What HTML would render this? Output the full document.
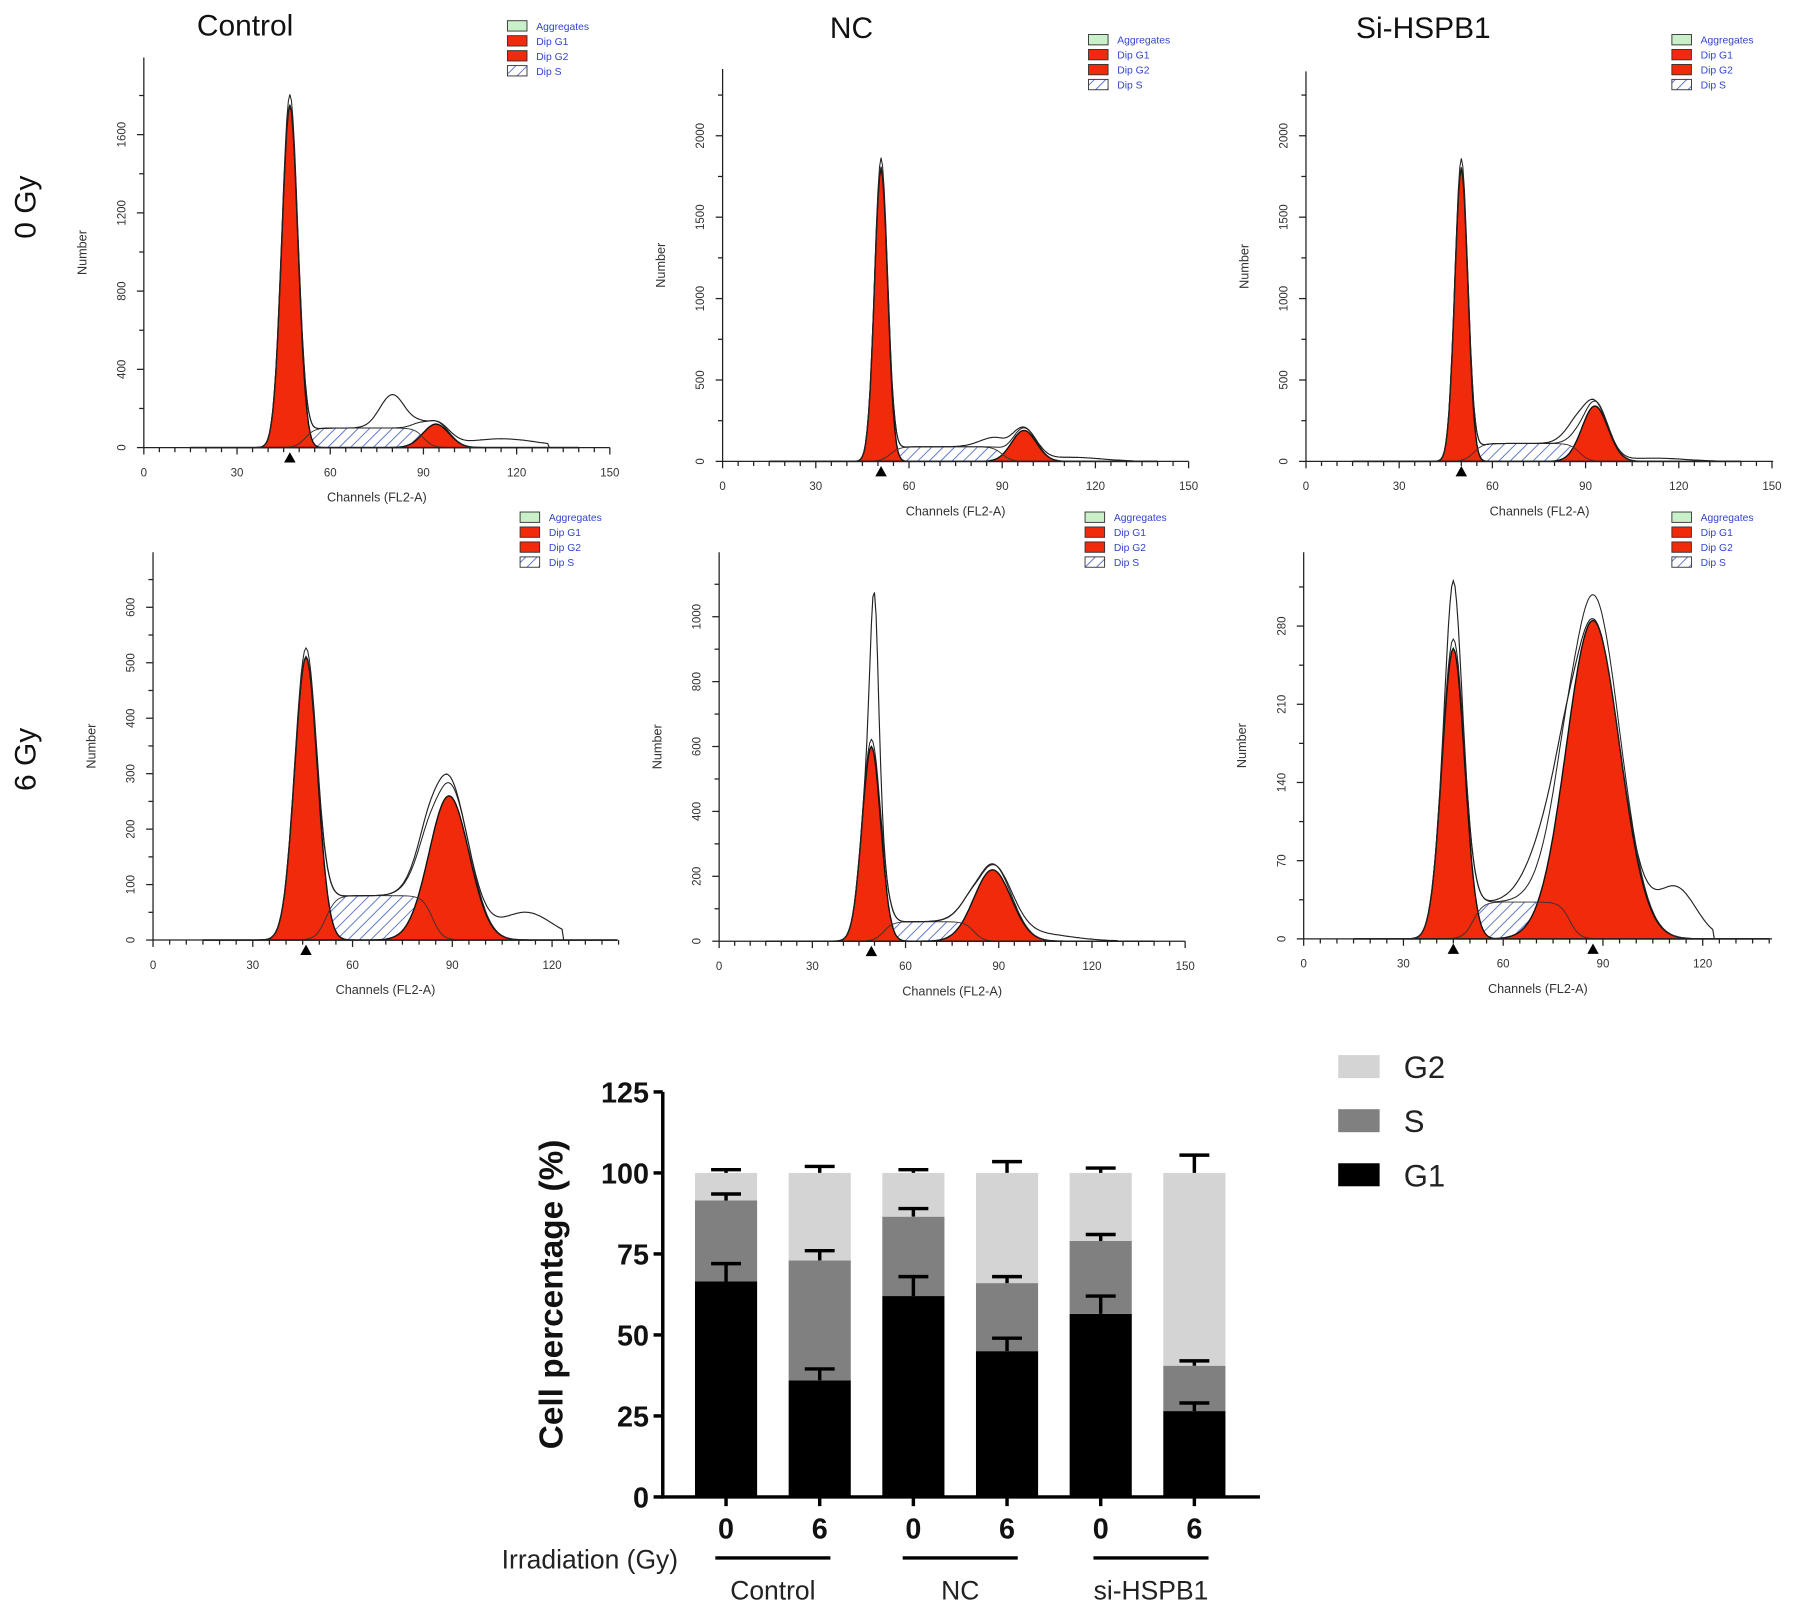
<!DOCTYPE html>
<html><head><meta charset="utf-8"><style>
html,body{margin:0;padding:0;background:#fff}
svg{display:block}
text{font-family:"Liberation Sans",sans-serif}
</style></head><body>
<svg id="fig" width="1795" height="1612" viewBox="0 0 1560 1401" preserveAspectRatio="none" xmlns="http://www.w3.org/2000/svg">
<defs>
<pattern id="hatch" patternUnits="userSpaceOnUse" width="7" height="7" patternTransform="rotate(45)">
<rect width="7" height="7" fill="#fff"/><line x1="0" y1="0" x2="0" y2="7" stroke="#5a6fd0" stroke-width="1.6"/>
</pattern>
</defs>
<g id="flow"></g>
<g id="bars"></g>
</svg>
<script>
// ---- Histogram panel parameters: [mean, sd, height]
const panelNames = ['control-0gy','nc-0gy','sihspb1-0gy','control-6gy','nc-6gy','sihspb1-6gy'];
const g1Peaks = [[47,2.6,1750],[51,2.1,1800],[50,2.1,1800],[46,3.4,510],[49,3.0,600],[45,3.4,260]];
const g2Peaks = [[94,4.2,120],[97,4.0,190],[93,4.2,340],[89,6.0,260],[88,6.0,220],[87,8.0,285]];
const sPlateau = [[52,90,100],[54,90,90],[54,88,110],[52,84,80],[53,82,60],[51,80,33]];
const extraBumps = [[[80,4,170],[115,12,45]],[[88,5,60],[112,10,25]],[[87,4,90],[112,10,20]],[[86,5,40],[112,8,50]],[[50,1.3,500],[100,12,25]],[[45,1.8,60],[72,6,30],[112,6,45]]];
const envStart = [28,38,40,28,36,22];
const envEnd = [130,132,132,123,128,123];

// panel geometry (display coords)
const panels = [
 {ox:125,by:389,top:50,xpx:2.7,xend:530,xt:[0,30,60,90,120,150],yt:[0,400,800,1200,1600],ypx:0.17,minor:200,title:'Control',tx:213,ty:31,lx:441,ly:18,mk:[0]},
 {ox:628,by:401,top:60,xpx:2.7,xend:1033,xt:[0,30,60,90,120,150],yt:[0,500,1000,1500,2000],ypx:0.1415,minor:250,title:'NC',tx:740,ty:33,lx:946,ly:30,mk:[0]},
 {ox:1135,by:401,top:62,xpx:2.7,xend:1541,xt:[0,30,60,90,120,150],yt:[0,500,1000,1500,2000],ypx:0.1415,minor:250,title:'Si-HSPB1',tx:1237,ty:33,lx:1453,ly:30,mk:[0]},
 {ox:133,by:817,top:480,xpx:2.89,xend:537,xt:[0,30,60,90,120],yt:[0,100,200,300,400,500,600],ypx:0.482,minor:50,lx:452,ly:445,mk:[0]},
 {ox:625,by:818,top:480,xpx:2.7,xend:1030,xt:[0,30,60,90,120,150],yt:[0,200,400,600,800,1000],ypx:0.282,minor:100,lx:943,ly:445,mk:[0]},
 {ox:1133,by:816,top:480,xpx:2.89,xend:1540,xt:[0,30,60,90,120],yt:[0,70,140,210,280],ypx:0.971,minor:35,lx:1453,ly:445,mk:[0,1]}
];

// ---- Bar chart data
const groups = ['Control','NC','si-HSPB1'];
const doses = ['0','6','0','6','0','6'];
const g1Vals = [66.5,36,62,45,56.5,26.5];
const g1Err = [5.5,3.5,6,4,5.5,2.5];
const sVals = [25,37,24.5,21,22.5,14];
const sErr = [2,3,2.5,2,2,1.5];
const g2Vals = [8.5,27,13.5,34,21,59.5];
const g2Err = [1,2,1,3.5,1.5,5.5];
const yTicks = [0,25,50,75,100,125];

const NS='http://www.w3.org/2000/svg';
function el(tag,attrs,parent,txt){const e=document.createElementNS(NS,tag);for(const k in attrs)e.setAttribute(k,attrs[k]);if(txt!==undefined)e.textContent=txt;parent.appendChild(e);return e;}
function gauss(x,p){return p[2]*Math.exp(-0.5*((x-p[0])/p[1])**2);}
function plat(x,p){return p[2]/(1+Math.exp(-(x-p[0])/1.5))/(1+Math.exp((x-p[1])/1.5));}

const flow=document.getElementById('flow');
panels.forEach((P,i)=>{
 const g=el('g',{},flow);
 
 
 const X=c=>P.ox+c*P.xpx, Y=v=>P.by-v*P.ypx;
 const xs=[];for(let c=15;c<=Math.min(140,(P.xend-P.ox)/P.xpx);c+=0.5)xs.push(c);
 const path=f=>xs.map((c,k)=>(k?'L':'M')+X(c).toFixed(1)+','+Y(f(c)).toFixed(1)).join('');
 const area=f=>path(f)+'L'+X(xs[xs.length-1])+','+P.by+'L'+X(xs[0])+','+P.by+'Z';
 const sa=el('path',{d:area(c=>plat(c,sPlateau[i])),fill:'url(#hatch)',stroke:'none'},g);
 
 const a1=el('path',{d:area(c=>gauss(c,g1Peaks[i])),fill:'#f02a0a',stroke:'#111','stroke-width':1.2},g);
 
 const a2=el('path',{d:area(c=>gauss(c,g2Peaks[i])),fill:'#f02a0a',stroke:'#111','stroke-width':1.2},g);
 
 el('path',{d:path(c=>plat(c,sPlateau[i])+0),fill:'none',stroke:'#333','stroke-width':0.8},g);
 const env=c=>{if(c<envStart[i]||c>envEnd[i])return 0;let v=gauss(c,g1Peaks[i])+gauss(c,g2Peaks[i])+plat(c,sPlateau[i]);extraBumps[i].forEach(b=>v+=gauss(c,b));return v;};
 const e1=el('path',{d:path(env),fill:'none',stroke:'#222','stroke-width':1},g);
 
 el('path',{d:path(c=>gauss(c,g1Peaks[i])*1.03+gauss(c,g2Peaks[i])*1.08+plat(c,sPlateau[i])),fill:'none',stroke:'#222','stroke-width':0.9},g);
 const ax=el('g',{stroke:'#222','stroke-width':1.1},g);
 
 el('line',{x1:P.ox,y1:P.top,x2:P.ox,y2:P.by},ax);
 el('line',{x1:P.ox,y1:P.by,x2:P.xend,y2:P.by},ax);
 for(let c=0;P.ox+c*P.xpx<=P.xend+1;c+=5){const big=c%30===0;el('line',{x1:X(c),y1:P.by,x2:X(c),y2:P.by+(big?6:4)},ax);}
 for(let v=0;Y(v)>=P.top;v+=P.minor)el('line',{x1:P.ox-(P.yt.includes(v)?6:4),y1:Y(v),x2:P.ox,y2:Y(v)},ax);
 P.xt.forEach(c=>{const t=el('text',{x:X(c),y:P.by+25,'font-size':10,'text-anchor':'middle',fill:'#333'},g,String(c));});
 P.yt.forEach(v=>{const t=el('text',{x:P.ox-16,y:Y(v),'font-size':10,'text-anchor':'middle',fill:'#333',transform:`rotate(-90 ${P.ox-16} ${Y(v)})`},g,String(v));});
 const xl=el('text',{x:P.ox+(P.xend-P.ox)*0.5,y:P.by+47,'font-size':11,'text-anchor':'middle',fill:'#333'},g,'Channels (FL2-A)');
 
 const ym=(P.top+P.by)/2;
 const yl=el('text',{x:P.ox-50,y:ym,'font-size':11,'text-anchor':'middle',fill:'#333',transform:`rotate(-90 ${P.ox-50} ${ym})`},g,'Number');
 
 [g1Peaks[i],g2Peaks[i]].forEach((p,k)=>{if(!P.mk.includes(k))return;const x=X(p[0]);const m=el('path',{d:`M${x-5},${P.by+13}L${x+5},${P.by+13}L${x},${P.by+4}Z`,fill:'#000'},g);});
 if(P.title){const t=el('text',{x:P.tx,y:P.ty,'font-size':26,'text-anchor':'middle',fill:'#111'},g,P.title);}
 const lg=el('g',{},g);
 const items=[['Aggregates','#c9f0c9'],['Dip G1','#f02a0a'],['Dip G2','#f02a0a'],['Dip S','url(#hatch)']];
 items.forEach((it,k)=>{const yy=P.ly+k*13;el('rect',{x:P.lx,y:yy,width:17,height:9,fill:it[1],stroke:'#333','stroke-width':0.8},lg);const t=el('text',{x:P.lx+25,y:yy+8,'font-size':9,fill:'#3344cc'},lg,it[0]);});
});
[['0 Gy',180],['6 Gy',660]].forEach(r=>{const t=el('text',{x:31,y:r[1],'font-size':26,'text-anchor':'middle',fill:'#111',transform:`rotate(-90 31 ${r[1]})`},flow,r[0]);});

// ---- Bar chart
const B=document.getElementById('bars');
const AX={x:576,y0:1301,y125:949,xend:1095};
const yS=v=>AX.y0-(AX.y0-AX.y125)*v/125;
const xC=i=>631+i*81.4;
const bw=54;
const bax=el('g',{stroke:'#000','stroke-width':3},B);

el('line',{x1:AX.x,y1:AX.y125,x2:AX.x,y2:AX.y0+1.5},bax);
el('line',{x1:AX.x-1.5,y1:AX.y0,x2:AX.xend,y2:AX.y0},bax);
yTicks.forEach(v=>{el('line',{x1:AX.x-8,y1:yS(v),x2:AX.x,y2:yS(v)},bax);const t=el('text',{x:AX.x-12,y:yS(v)+9,'font-size':25,'font-weight':'bold','text-anchor':'end',fill:'#111'},B,String(v));});
const colors=['#000','#808080','#d4d4d4'];
const errs=[];
g1Vals.forEach((g1,i)=>{
 const x=xC(i)-bw/2;
 const segs=[[0,g1,g1Err[i]],[g1,g1+sVals[i],sErr[i]],[g1+sVals[i],g1+sVals[i]+g2Vals[i],g2Err[i]]];
 segs.forEach((s,k)=>{
  const r=el('rect',{x:x,y:yS(s[1]),width:bw,height:yS(s[0])-yS(s[1]),fill:colors[k]},B);
  
  
  errs.push([i,s[1],s[2]]);
 });
 el('line',{x1:xC(i),y1:AX.y0,x2:xC(i),y2:AX.y0+8,stroke:'#000','stroke-width':3},B);
 const t=el('text',{x:xC(i),y:1337,'font-size':25,'font-weight':'bold','text-anchor':'middle',fill:'#111'},B,doses[i]);
 
});
errs.forEach(([i,top,er])=>{
 const e=el('path',{d:`M${xC(i)},${yS(top)}V${yS(top+er)}M${xC(i)-13},${yS(top+er)}H${xC(i)+13}`,stroke:'#000','stroke-width':3,fill:'none'},B);
 
 
});
const ir=el('text',{x:436,y:1363,'font-size':23,fill:'#222'},B,'Irradiation (Gy)');

groups.forEach((gname,k)=>{
 const cx=(xC(2*k)+xC(2*k+1))/2+(k===2?3:0);
 el('line',{x1:cx-50,y1:1354,x2:cx+50,y2:1354,stroke:'#000','stroke-width':3},B);
 const t=el('text',{x:cx,y:1390,'font-size':23,'text-anchor':'middle',fill:'#222'},B,gname);
 
});
const yt=el('text',{x:489,y:1125,'font-size':29,'font-weight':'bold','text-anchor':'middle',fill:'#111',transform:'rotate(-90 489 1125)'},B,'Cell percentage (%)');

[['G2','#d4d4d4',927],['S','#808080',974],['G1','#000',1021]].forEach(l=>{
 el('rect',{x:1163,y:l[2]-10,width:36,height:20,fill:l[1]},B);
 const t=el('text',{x:1220,y:l[2]+10,'font-size':27,fill:'#222'},B,l[0]);
 
});
</script>
</body></html>
